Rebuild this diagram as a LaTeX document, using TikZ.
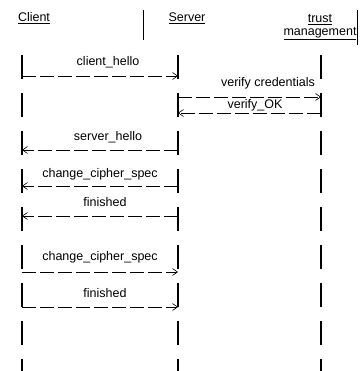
\documentclass[tikz,border=0pt]{standalone}
\usepackage{fontspec}
\setmainfont{Liberation Sans}
\usetikzlibrary{arrows.meta}
\begin{document}
\begin{tikzpicture}[x=1pt,y=-1pt,
  lbl/.style={inner sep=0pt,font=\fontsize{12.5}{14}\selectfont},
  hdr/.style={inner sep=0pt,font=\fontsize{12.5}{14}\selectfont,align=center},
  life/.style={line width=1.4pt,dash pattern=on 24pt off 14pt},
  msg/.style={line width=0.6pt,dash pattern=on 14pt off 4pt,-{Straight Barb[length=5pt,width=7pt]}},
  frameline/.style={line width=0.9pt}]
\useasboundingbox (0,0) rectangle (360,371);
% headers
\node[hdr] (client) at (34,18) {\underline{Client}};
\node[hdr] (server) at (187,18) {\underline{Server}};
\node[hdr] (trust) at (320,27) {\underline{trust}\\[-1pt]\underline{management}};
\coordinate (f1a) at (143,10); \coordinate (f1b) at (143,40);
\coordinate (f2a) at (357,10); \coordinate (f2b) at (357,45);
\draw[frameline] (f1a) -- (f1b);
\draw[frameline] (f2a) -- (f2b);
% lifelines
\coordinate (ct) at (22,55); \coordinate (cb) at (22,371);
\coordinate (st) at (178,55); \coordinate (sb) at (178,371);
\coordinate (tt) at (321,55); \coordinate (tb) at (321,371);
\draw[life] (ct) -- (cb);
\draw[life] (st) -- (sb);
\draw[life] (tt) -- (tb);
% message endpoints
\coordinate (c1) at (22,76);  \coordinate (s1) at (178,76);
\coordinate (s2) at (178,97); \coordinate (t2) at (321,97);
\coordinate (t3) at (321,113); \coordinate (s3) at (178,113);
\coordinate (s4) at (178,150); \coordinate (c4) at (22,150);
\coordinate (s5) at (178,186); \coordinate (c5) at (22,186);
\coordinate (s6) at (178,216); \coordinate (c6) at (22,216);
\coordinate (c7) at (22,272); \coordinate (s7) at (178,272);
\coordinate (c8) at (22,307); \coordinate (s8) at (178,307);
% messages
\draw[msg] (c1) -- (s1);
\node[lbl] (m1) at (108,62) {client\_hello};
\draw[msg] (s2) -- (t2);
\node[lbl] (m2) at (268,83) {verify credentials};
\draw[msg] (t3) -- (s3);
\node[lbl] (m3) at (255,105) {verify\_OK};
\draw[msg] (s4) -- (c4);
\node[lbl] (m4) at (108,137) {server\_hello};
\draw[msg] (s5) -- (c5);
\node[lbl] (m5) at (100,174) {change\_cipher\_spec};
\draw[msg] (s6) -- (c6);
\node[lbl] (m6) at (105,202) {finished};
\draw[msg] (c7) -- (s7);
\node[lbl] (m7) at (100,257) {change\_cipher\_spec};
\draw[msg] (c8) -- (s8);
\node[lbl] (m8) at (105,293) {finished};
\end{tikzpicture}
\end{document}
